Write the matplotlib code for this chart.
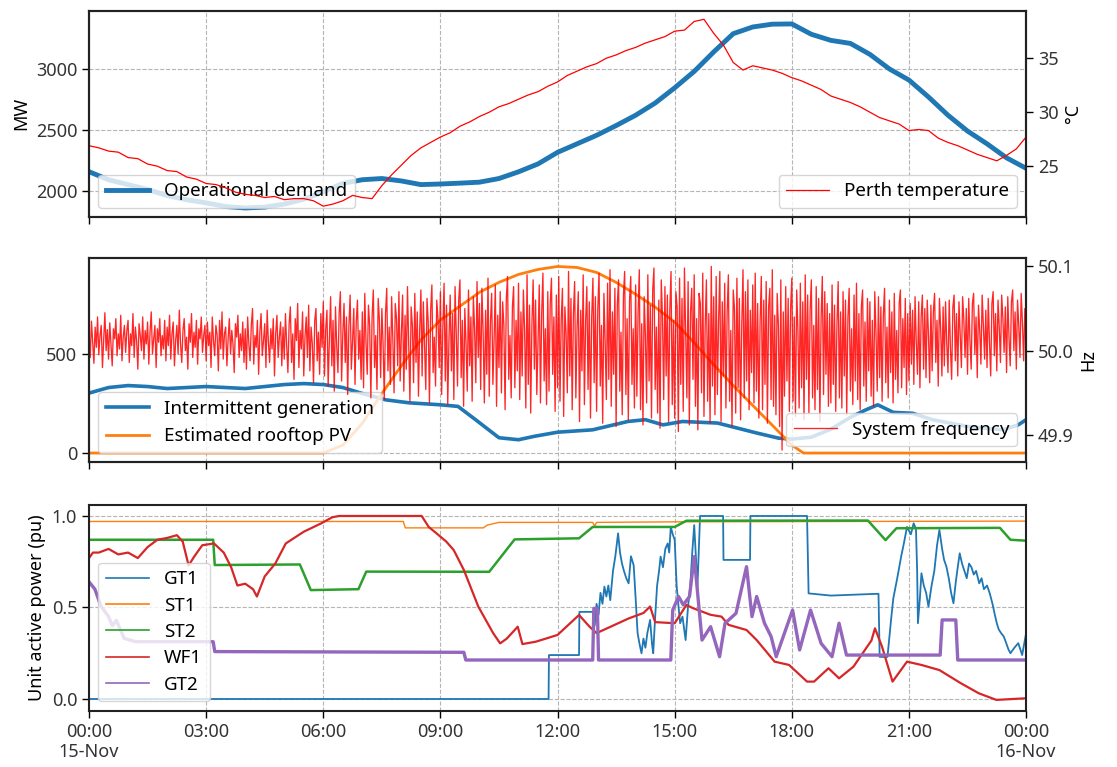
import matplotlib
matplotlib.use("Agg")
import matplotlib.pyplot as plt
import numpy as np

plt.rcParams["font.family"] = ["Noto Sans", "DejaVu Sans"]
plt.rcParams["font.size"] = 13

# --- x axis (hours since 00:00 15-Nov) ---
HOUR_TICKS = [0, 3, 6, 9, 12, 15, 18, 21, 24]
TICK_LABELS = ["00:00\n15-Nov", "03:00", "06:00", "09:00", "12:00",
               "15:00", "18:00", "21:00", "00:00\n16-Nov"]

# --- panel 1: operational demand (MW, every 30 min) ---
DEMAND_T = np.arange(0, 24.01, 0.5)
DEMAND_MW = [2156, 2090, 2050, 2010, 1960, 1925, 1900, 1870, 1858, 1865,
             1890, 1930, 1990, 2060, 2090, 2100, 2080, 2050, 2055, 2062,
             2070, 2100, 2155, 2220, 2315, 2385, 2455, 2535, 2620, 2720,
             2845, 2980, 3140, 3290, 3345, 3368, 3370, 3285, 3235, 3210,
             3120, 3000, 2909, 2770, 2620, 2490, 2385, 2270, 2184]

# --- panel 1: Perth temperature (degC, every 15 min) ---
TEMP_T = np.arange(0, 24.01, 0.25)
TEMP_C = [26.9, 26.7, 26.4, 26.3, 25.8, 25.7, 25.2, 25.0, 24.6, 24.5,
          24.0, 23.8, 23.4, 23.3, 23.0, 22.6, 22.4, 22.3, 22.1, 22.2,
          21.9, 22.0, 22.0, 21.8, 21.3, 21.5, 21.8, 22.3, 22.1, 22.0,
          23.2, 24.2, 25.1, 26.0, 26.7, 27.2, 27.7, 28.1, 28.7, 29.1,
          29.6, 30.0, 30.5, 30.8, 31.2, 31.6, 31.9, 32.4, 32.8, 33.4,
          33.8, 34.2, 34.5, 35.0, 35.3, 35.7, 36.0, 36.4, 36.7, 37.0,
          37.5, 37.6, 38.4, 38.6, 37.3, 36.2, 34.6, 33.9, 34.3, 34.1,
          33.9, 33.6, 33.2, 32.9, 32.5, 32.1, 31.5, 31.2, 30.9, 30.5,
          30.0, 29.5, 29.2, 28.9, 28.3, 28.4, 28.3, 27.6, 27.2, 26.9,
          26.5, 26.1, 25.8, 25.5, 26.0, 26.6, 27.7]

# --- panel 2: intermittent generation and rooftop PV (MW) ---
INTER_T = [0, 0.5, 1, 1.5, 2, 2.5, 3, 3.5, 4, 4.5, 5, 5.5, 6, 6.5, 7, 7.6,
           8.2, 9.0, 9.45, 9.9, 10.5, 11.0, 11.4, 12.0, 12.9, 13.8, 14.25,
           14.7, 15.2, 16.1, 16.6, 17.1, 17.66, 18.0, 18.5, 19.0, 19.5,
           19.9, 20.2, 20.6, 21.1, 21.6, 22.5, 23.4, 23.8, 24]
INTER_MW = [302, 330, 340, 335, 325, 330, 335, 330, 325, 335, 345, 350, 345,
            330, 300, 268, 253, 243, 235, 168, 77, 67, 84, 105, 117, 159, 168,
            142, 159, 151, 126, 101, 75, 70, 80, 120, 180, 218, 243, 205, 200,
            168, 134, 117, 142, 168]

PV_T = [0, 6.0, 6.5, 7.0, 7.5, 8.0, 8.5, 9.0, 9.5, 10.0, 10.5, 11.0, 11.5,
        12.0, 12.5, 13.0, 13.5, 14.0, 14.5, 15.0, 15.5, 16.0, 16.5, 17.0,
        17.5, 18.0, 18.3, 24]
PV_MW = [0, 0, 40, 150, 300, 440, 570, 670, 740, 810, 860, 900, 925, 940,
         935, 910, 860, 800, 735, 660, 555, 445, 340, 240, 140, 40, 0, 0]

# --- panel 2: system frequency deviation from 50 Hz (mHz, 32 samples/hour) ---
FREQ_MHZ = [
    22, -8, 35, 10, -15, 28, 4, 40, -5, 18, 30, -20, 12, 45, 0, 25, -10, 33, 8, -18, 26, 14, 38, -6, 20, 2, 42, -12, 16, 30, -2, 24,
    36, -14, 20, 6, 44, -8, 28, 12, -22, 32, 18, 0, 40, -10, 24, 8, 34, -16, 22, 46, -4, 14, 30, -20, 26, 10, 38, -6, 18, 2, 36, -12,
    28, 6, 42, -10, 20, 34, -18, 12, 30, -4, 48, 8, -14, 24, 38, 0, 16, -22, 32, 10, 44, -8, 22, 4, 36, -16, 26, 14, 40, -2, 18, 30,
    -12, 34, 6, 22, -20, 40, 12, -6, 30, 18, -24, 36, 2, 46, -10, 20, 28, -18, 14, 38, -4, 24, 8, -26, 32, 16, 42, -8, 20, 0, 34, -14,
    26, -22, 40, 8, -12, 30, 50, -16, 18, 4, 36, -28, 22, 44, -6, 12, 32, -20, 48, 10, -14, 26, 2, 38, -30, 20, 42, -8, 16, 34, -18, 28,
    -10, 44, 6, -26, 32, 52, -14, 20, -34, 38, 12, 56, -20, 24, 2, 46, -30, 16, 40, -8, 54, -24, 28, 8, -38, 36, 50, -12, 22, -28, 44, 4,
    58, -30, 26, 48, -42, 14, 64, -18, 36, -48, 52, 6, -26, 44, 70, -36, 20, 56, -14, 40, -52, 30, 66, -22, 12, 50, -40, 34, 60, -10, 24, -34,
    46, -44, 68, 10, -28, 54, 30, -56, 40, 72, -20, 18, -46, 62, 36, -32, 50, 8, -58, 44, 74, -24, 28, -40, 64, 14, -50, 56, 38, -18, 70, -36,
    20, 66, -48, 42, -22, 76, 8, -60, 52, 30, -38, 68, -14, 46, -54, 24, 72, -30, 58, 4, -46, 62, 34, -62, 48, 78, -26, 16, -42, 60, 38, -20,
    70, -52, 28, 80, -36, 54, -64, 12, 66, -24, 44, -58, 76, 20, -42, 60, 84, -32, 36, -66, 50, 8, -48, 72, -18, 40, -60, 64, 26, -38, 82, -8,
    56, -46, 74, 22, -62, 48, -28, 86, -54, 34, 68, -40, 14, 78, -66, 42, -20, 70, -50, 58, 30, -70, 62, 88, -34, 18, -56, 52, 76, -44, 36, -24,
    80, -58, 46, -30, 72, 24, -68, 90, -40, 54, -74, 32, 84, -22, 60, -52, 10, 78, -62, 44, 92, -36, 26, -64, 70, -48, 56, 86, -28, 40, -72, 66,
    -44, 88, -60, 36, 74, -78, 52, 20, -50, 94, -30, 62, -70, 44, 82, -56, 28, 70, -84, 48, -24, 90, -64, 34, 76, -46, 58, -80, 40, 86, -38, 64,
    -72, 50, 92, -42, 30, -86, 68, 12, -58, 80, -34, 96, -66, 46, -28, 74, -90, 56, 84, -48, 22, -76, 66, 94, -52, 38, -82, 60, 88, -40, 26, -68,
    78, -54, 44, 96, -70, 32, -88, 64, 18, -62, 90, -36, 54, -80, 72, 98, -46, 28, -74, 60, -92, 84, 40, -58, 76, -30, 66, -84, 48, 94, -64, 36,
    -80, 70, 52, -96, 86, -40, 62, -72, 98, 24, -56, 82, -88, 46, 74, -34, 90, -66, 38, -94, 68, 56, -50, 92, -78, 30, 84, -60, 44, -86, 100, -42,
    64, -76, 88, -52, 36, 94, -84, 58, -30, 80, -68, 46, 90, -60, 24, -90, 72, 50, -74, 86, -44, 62, -82, 32, 96, -56, 70, -36, 84, -70, 48, -26,
    78, -62, 92, -48, 56, -80, 34, 88, -70, 60, -40, 82, -86, 52, 74, -58, 96, -66, 42, -76, 68, 30, -90, 84, -118, 46, -54, 76, -36, 62, -72, 50,
    86, -60, 40, -78, 72, 24, -68, 80, -44, 58, -82, 90, -34, 66, -74, 48, 84, -56, 30, -70, 76, -46, 62, -84, 38, 88, -52, 70, -28, 56, -66, 44,
    -62, 78, -40, 54, -72, 32, 82, -56, 46, -68, 70, -30, 60, -76, 40, 74, -48, 26, -64, 66, -36, 80, -58, 44, -70, 52, 72, -42, 34, -60, 62, -24,
    58, -54, 36, -66, 70, 20, -48, 64, -32, 52, -60, 42, 74, -38, 28, -56, 60, -26, 46, -62, 68, -34, 24, -50, 56, 72, -44, 38, -20, 62, -52, 44,
    -36, 56, -16, 48, -40, 64, 10, -28, 58, -44, 40, 66, -22, 50, -32, 60, 18, -38, 54, -24, 46, 68, -14, 36, -42, 62, 26, -30, 52, -18, 58, 8,
    -26, 60, 4, -34, 52, 66, -12, 44, -30, 58, 20, -20, 64, 36, -8, 50, -28, 62, 12, -22, 56, 68, -4, 40, -32, 54, 24, -16, 66, 30, -10, 48,
    -20, 62, 10, -30, 56, 70, -6, 44, -24, 60, 28, -14, 66, 38, -2, 52, -26, 64, 16, -18, 58, 72, 0, 46, -22, 60, 30, -8, 68, 34, -12, 50,
    20]
FREQ_T = np.arange(len(FREQ_MHZ)) * 24.0 / (len(FREQ_MHZ) - 1)

# --- panel 3: unit active power (pu) ---
GT1_T = [0, 11.77, 11.78, 12.55, 12.56, 12.9, 12.95, 13.0, 13.05, 13.1,
         13.15, 13.2, 13.25, 13.3, 13.35, 13.42, 13.48, 13.55, 13.6, 13.65,
         13.7, 13.76, 13.82, 13.88, 13.95, 14.0, 14.05, 14.1, 14.15, 14.2,
         14.25, 14.3, 14.37, 14.42, 14.45, 14.5, 14.55, 14.6, 14.64, 14.7,
         14.76, 14.82, 14.86, 14.9, 14.95, 15.0, 15.05, 15.1, 15.14, 15.2,
         15.28, 15.34, 15.4, 15.45, 15.5, 15.55, 15.58, 15.65, 16.24, 16.25,
         16.93, 16.94, 18.39, 18.43, 19.0, 19.6, 20.22, 20.25, 20.45, 20.55,
         20.6, 20.7, 20.8, 20.87, 20.95, 21.05, 21.12, 21.18, 21.21, 21.23,
         21.28, 21.32, 21.38, 21.44, 21.5, 21.58, 21.65, 21.72, 21.78,
         21.85, 21.9, 21.96, 22.02, 22.08, 22.14, 22.2, 22.25, 22.3, 22.36,
         22.42, 22.48, 22.54, 22.6, 22.66, 22.72, 22.8, 22.86, 22.92, 23.0,
         23.07, 23.14, 23.2, 23.25, 23.3, 23.36, 23.43, 23.5, 23.55, 23.6,
         23.7, 23.8, 23.9, 24]
GT1_PU = [0, 0, 0.24, 0.24, 0.476, 0.476, 0.40, 0.52, 0.46, 0.58,
          0.52, 0.614, 0.56, 0.62, 0.54, 0.70, 0.78, 0.905, 0.80, 0.74,
          0.70, 0.66, 0.632, 0.78, 0.73, 0.55, 0.36, 0.30, 0.25, 0.33,
          0.28, 0.36, 0.432, 0.30, 0.25, 0.45, 0.62, 0.70, 0.778, 0.72,
          0.82, 0.85, 0.80, 0.94, 0.90, 0.87, 0.62, 0.50, 0.414, 0.45,
          0.322, 0.50, 0.62, 0.80, 0.95, 0.75, 0.595, 1.0, 1.0, 0.76,
          0.76, 1.0, 1.0, 0.577, 0.565, 0.57, 0.575, 0.23, 0.23, 0.45,
          0.55, 0.66, 0.778, 0.85, 0.94, 0.90, 0.96, 0.93, 0.70, 0.414,
          0.55, 0.687, 0.62, 0.58, 0.505, 0.62, 0.70, 0.84, 0.924,
          0.82, 0.76, 0.723, 0.66, 0.58, 0.523, 0.64, 0.72, 0.796, 0.74,
          0.70, 0.66, 0.74, 0.72, 0.68, 0.70, 0.632, 0.66, 0.60, 0.62,
          0.577, 0.52, 0.46, 0.414, 0.38, 0.36, 0.341, 0.30, 0.27, 0.25,
          0.28, 0.305, 0.24, 0.359]

ST1_T = [0, 8.05, 8.1, 10.1, 10.2, 10.5, 12.9, 12.95, 13.0, 15.0, 24]
ST1_PU = [0.97, 0.97, 0.935, 0.935, 0.95, 0.965, 0.965, 0.945, 0.965,
          0.968, 0.972]

ST2_T = [0, 3.18, 3.22, 5.4, 5.68, 6.9, 7.1, 10.25, 10.9, 12.55, 12.9,
         15.0, 15.3, 19.95, 20.4, 20.68, 23.33, 23.6, 24]
ST2_PU = [0.87, 0.87, 0.732, 0.735, 0.595, 0.6, 0.696, 0.695, 0.872, 0.878,
          0.94, 0.94, 0.974, 0.975, 0.868, 0.933, 0.935, 0.87, 0.865]

WF1_T = [0, 0.1, 0.25, 0.5, 0.75, 1.0, 1.25, 1.5, 1.75, 2.0, 2.25, 2.4,
         2.55, 2.7, 2.9, 3.2, 3.45, 3.64, 3.8, 4.0, 4.2, 4.3, 4.5, 4.77,
         5.04, 5.5, 5.95, 6.23, 6.41, 8.52, 8.7, 8.9, 9.15, 9.34, 9.6, 9.97,
         10.35, 10.53, 10.7, 10.98, 11.1, 11.44, 11.7, 12.0, 12.55, 12.82,
         13.0, 13.36, 13.82, 14.2, 14.37, 14.5, 15.0, 15.3, 15.46, 15.92,
         16.2, 16.38, 16.84, 17.1, 17.56, 17.93, 18.39, 18.57, 18.94, 19.21,
         19.58, 20.04, 20.13, 20.31, 20.58, 20.95, 21.32, 21.78, 22.33,
         22.79, 23.24, 24]
WF1_PU = [0.77, 0.80, 0.80, 0.82, 0.79, 0.80, 0.77, 0.83, 0.87, 0.88, 0.895,
          0.86, 0.73, 0.78, 0.84, 0.85, 0.80, 0.72, 0.62, 0.63, 0.60, 0.56,
          0.67, 0.74, 0.85, 0.914, 0.96, 0.993, 1.0, 1.0, 0.94, 0.905, 0.86,
          0.814, 0.705, 0.505, 0.36, 0.304, 0.33, 0.395, 0.30, 0.313, 0.33,
          0.35, 0.459, 0.395, 0.36, 0.395, 0.44, 0.47, 0.505, 0.42, 0.414,
          0.514, 0.497, 0.46, 0.45, 0.405, 0.377, 0.322, 0.204, 0.186, 0.095,
          0.095, 0.168, 0.113, 0.177, 0.32, 0.386, 0.286, 0.095, 0.204,
          0.186, 0.158, 0.086, 0.031, -0.005, 0.004]

GT2_T = [0, 0.15, 0.3, 0.5, 0.6, 0.7, 0.9, 1.2, 3.18, 3.22, 9.6, 9.65,
         12.9, 12.93, 13.02, 13.05, 14.9, 14.95, 15.1, 15.22, 15.38, 15.5,
         15.58, 15.7, 15.92, 16.15, 16.29, 16.57, 16.84, 16.98, 17.1, 17.3,
         17.47, 17.6, 17.84, 18.02, 18.2, 18.48, 18.75, 19.03, 19.21, 19.4,
         21.8, 21.85, 22.2, 22.25, 24]
GT2_PU = [0.64, 0.60, 0.51, 0.45, 0.40, 0.43, 0.331, 0.313, 0.313, 0.259,
          0.255, 0.213, 0.213, 0.495, 0.495, 0.213, 0.213, 0.486, 0.56,
          0.514, 0.56, 0.778, 0.595, 0.322, 0.395, 0.231, 0.414, 0.468,
          0.723, 0.45, 0.56, 0.414, 0.341, 0.231, 0.377, 0.486, 0.268,
          0.486, 0.304, 0.231, 0.414, 0.24, 0.24, 0.432, 0.432, 0.213, 0.213]

UNITS = [("GT1", GT1_T, GT1_PU, "#1f77b4", 1.3),
         ("ST1", ST1_T, ST1_PU, "#ff7f0e", 1.0),
         ("ST2", ST2_T, ST2_PU, "#2ca02c", 1.8),
         ("WF1", WF1_T, WF1_PU, "#d62728", 1.6),
         ("GT2", GT2_T, GT2_PU, "#9467bd", 2.4)]

LEG_KW = dict(fontsize=13.5, handlelength=2.3)


def style_axis(ax, show_labels):
    ax.set_xlim(0, 24)
    ax.set_xticks(HOUR_TICKS)
    if show_labels:
        ax.set_xticklabels(TICK_LABELS)
    else:
        ax.set_xticklabels([])
    ax.grid(True, linestyle="--", color="#b5b5b5", linewidth=0.8)
    ax.tick_params(length=5, width=1, labelcolor="#333333")
    for s in ax.spines.values():
        s.set_linewidth(1.5)
        s.set_color("#222222")


def style_twin(ax):
    ax.tick_params(length=5, width=1, labelcolor="#333333")
    for s in ax.spines.values():
        s.set_linewidth(1.5)
        s.set_color("#222222")


fig = plt.figure(figsize=(11.17, 7.67), dpi=100)
left, width = 0.0797, 0.8389
ax1 = fig.add_axes([left, 0.7171, width, 0.2690])
ax2 = fig.add_axes([left, 0.3977, width, 0.2660])
ax3 = fig.add_axes([left, 0.0734, width, 0.2682])

# top: demand vs temperature
ax1.plot(DEMAND_T, DEMAND_MW, color="#1f77b4", linewidth=3.5,
         label="Operational demand")
ax1.set_ylim(1784, 3479)
ax1.set_yticks([2000, 2500, 3000])
ax1.set_ylabel("MW")
style_axis(ax1, False)
ax1.legend(loc="lower left", **LEG_KW)

ax1b = ax1.twinx()
ax1b.plot(TEMP_T, TEMP_C, color="red", linewidth=0.9,
          label="Perth temperature")
ax1b.set_ylim(20.3, 39.4)
ax1b.set_yticks([25, 30, 35])
ax1b.set_ylabel("°C")
style_twin(ax1b)
ax1b.legend(loc="lower right", **LEG_KW)

# middle: intermittent generation, rooftop PV, frequency
ax2.plot(INTER_T, INTER_MW, color="#1f77b4", linewidth=2.6,
         label="Intermittent generation")
ax2.plot(PV_T, PV_MW, color="#ff7f0e", linewidth=2.0,
         label="Estimated rooftop PV")
ax2.set_ylim(-45, 983)
ax2.set_yticks([0, 500])
style_axis(ax2, False)
ax2.legend(loc="lower left", **LEG_KW)

ax2b = ax2.twinx()
ax2b.plot(FREQ_T, 50 + np.array(FREQ_MHZ) / 1000.0, color="red",
          linewidth=0.95, alpha=0.85, label="System frequency")
ax2b.set_ylim(49.868, 50.11)
ax2b.set_yticks([49.9, 50.0, 50.1])
ax2b.set_yticklabels(["49.9", "50.0", "50.1"])
ax2b.set_ylabel("Hz")
style_twin(ax2b)
ax2b.legend(loc="lower right", bbox_to_anchor=(1.0, 0.03), **LEG_KW)

# bottom: unit outputs
for name, t, pu, color, lw in UNITS:
    ax3.plot(t, pu, color=color, linewidth=lw, label=name)
ax3.set_ylim(-0.064, 1.06)
ax3.set_yticks([0.0, 0.5, 1.0])
ax3.set_ylabel("Unit active power (pu)")
style_axis(ax3, True)
leg = ax3.legend(loc="lower left", labelspacing=0.45, **LEG_KW)
for line in leg.get_lines():
    line.set_linewidth(1.2)

fig.savefig("out.png", dpi=100)
